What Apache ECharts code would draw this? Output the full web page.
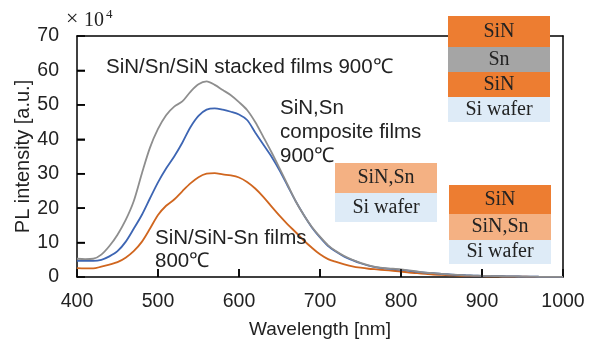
<!DOCTYPE html>
<html><head><meta charset="utf-8">
<script src="https://cdn.jsdelivr.net/npm/echarts@6/dist/echarts.min.js"></script>
<style>html,body{margin:0;padding:0;background:#fff}#c{width:598px;height:340px}</style>
</head><body><div id="c"></div>
<script>
var wavelengths = [];
for (var w = 400; w <= 1000; w += 10) wavelengths.push(w);
var stackedSeries = [5.3,5.2,5.3,6.5,9.0,12.3,16.5,22,30,37.5,43,47,49.5,51,53.8,56,56.8,55.8,54.3,52.8,50.8,48.5,45,40.7,36.3,31.6,26.8,22,18,14.5,11.7,9.2,7.5,6.1,5.0,4.1,3.4,2.9,2.6,2.4,2.2,1.9,1.6,1.3,1.1,0.9,0.75,0.62,0.5,0.42,0.35,0.3,0.25,0.2,0.16,0.12,0.1,0.07,0.05,0.03,0.02];
var compositeSeries = [4.7,4.7,4.7,5.0,6.0,7.5,10.2,14,18,22.8,27.5,31.5,35,39,43.5,46.8,48.6,49,48.6,48,47.2,45.6,42,38.5,35,31,26.5,22,18,14.4,11.5,9.0,7.3,5.9,4.9,4.0,3.3,2.8,2.5,2.3,2.1,1.8,1.5,1.3,1.1,0.9,0.75,0.6,0.5,0.42,0.35,0.3,0.25,0.2,0.16,0.12,0.1,0.07,0.05,0.03,0.02];
var sinSnSeries = [2.6,2.5,2.5,3.0,3.6,4.3,5.6,7.5,10.2,14,18,20.7,22.5,24.9,27.2,29,30,30.2,29.8,29.5,28.9,27.6,25.7,23.3,20.5,17.8,15.3,13,10.6,8.5,6.6,5.2,4.4,3.7,3.1,2.7,2.4,2.2,2.0,1.8,1.6,1.3,1.1,0.9,0.7,0.6,0.5,0.4,0.32,0.28,0.24,0.2,0.16,0.13,0.1,0.08,0.06,0.04,0.03,0.02,0.01];
var xTicks = [400,500,600,700,800,900,1000];
var yTicks = [0,10,20,30,40,50,60,70];

function pairs(vals){ return wavelengths.map(function(w,i){return [w, vals[i]];}); }

var sans = '"Liberation Sans", Arial, sans-serif';
var serif = '"Liberation Serif", "Times New Roman", serif';

function txt(x, y, text, size, family, extra){
  var st = {text:text, fontSize:size, fontFamily:family, fill:'#222'};
  if (extra) for (var k in extra) st[k] = extra[k];
  return {type:'text', x:x, y:y, z:101, style:st};
}
function layerBox(x, y, w, h, fill, label){
  return {type:'group', z:100, children:[
    {type:'rect', shape:{x:x,y:y,width:w,height:h}, style:{fill:fill}, z:100},
    txt(x+w/2, y+h/2, label, 20, serif, {align:'center', verticalAlign:'middle'})
  ]};
}
var DARK='#ED7D31', LIGHT='#F4B183', GRAY='#A5A5A5', BLUE='#DEEBF7';
var axisLineStyle = {show:true,onZero:false,lineStyle:{color:'#000',width:1.5}};
var tickStyle = {show:true,inside:true,length:8,lineStyle:{color:'#000',width:1.5}};

var graphics = [
  txt(66, 8, '×', 22, serif),
  txt(84, 11, '10', 20, serif),
  txt(106, 8, '4', 13, serif),
  txt(106, 57, 'SiN/Sn/SiN stacked films 900℃', 20.5, sans),
  txt(280, 96, 'SiN,Sn\ncomposite films\n900℃', 20.5, sans, {lineHeight:24}),
  txt(155, 227, 'SiN/SiN-Sn films\n800℃', 20.5, sans, {lineHeight:23}),
  layerBox(448,16,102,31,DARK,'SiN'),
  layerBox(448,47,102,25,GRAY,'Sn'),
  layerBox(448,72,102,25,DARK,'SiN'),
  layerBox(448,97,102,25,BLUE,'Si wafer'),
  layerBox(335,163,102,30,LIGHT,'SiN,Sn'),
  layerBox(335,193,102,29,BLUE,'Si wafer'),
  layerBox(449,185,102,29,DARK,'SiN'),
  layerBox(449,214,102,26,LIGHT,'SiN,Sn'),
  layerBox(449,240,102,24,BLUE,'Si wafer')
];

var chart = echarts.init(document.getElementById('c'));
chart.setOption({
  animation:false,
  grid:{left:77,right:35,top:36,bottom:63,show:false,containLabel:false,outerBoundsMode:'none'},
  xAxis:[{type:'value',position:'bottom',min:xTicks[0],max:xTicks[xTicks.length-1],interval:100,
    axisLine:axisLineStyle,
    axisTick:tickStyle,
    axisLabel:{show:true,color:'#222',fontFamily:sans,fontSize:19.5,margin:15,formatter:function(v){return String(v);}},
    splitLine:{show:false},
    name:'Wavelength [nm]',nameLocation:'middle',nameGap:43,nameMoveOverlap:false,
    nameTextStyle:{color:'#222',fontFamily:sans,fontSize:19}},
    {type:'value',position:'top',min:xTicks[0],max:xTicks[xTicks.length-1],interval:100,
    axisLine:axisLineStyle,axisTick:{show:false},axisLabel:{show:false},splitLine:{show:false}}],
  yAxis:[{type:'value',position:'left',min:yTicks[0],max:yTicks[yTicks.length-1],interval:10,
    axisLine:axisLineStyle,
    axisTick:tickStyle,
    axisLabel:{show:true,color:'#222',fontFamily:sans,fontSize:19.5,margin:18},
    splitLine:{show:false},
    name:'PL intensity [a.u.]',nameLocation:'middle',nameGap:44,nameMoveOverlap:false,
    nameTextStyle:{color:'#222',fontFamily:sans,fontSize:20}},
    {type:'value',position:'right',min:yTicks[0],max:yTicks[yTicks.length-1],interval:10,
    axisLine:axisLineStyle,axisTick:{show:false},axisLabel:{show:false},splitLine:{show:false}}],
  series:[
    {type:'line',data:pairs(sinSnSeries),showSymbol:false,smooth:0.3,lineStyle:{color:'#D0661F',width:1.8},z:3},
    {type:'line',data:pairs(compositeSeries),showSymbol:false,smooth:0.3,lineStyle:{color:'#3D65B3',width:1.8},z:4},
    {type:'line',data:pairs(stackedSeries),showSymbol:false,smooth:0.3,lineStyle:{color:'#8E8E8E',width:1.8},z:5}
  ],
  graphic:graphics
});

// inward tick marks, positioned through the chart's own scales
try {
  var tickEls = [];
  xTicks.slice(1, -1).forEach(function(v){
    var p = chart.convertToPixel({xAxisIndex:0, yAxisIndex:0}, [v, yTicks[0]]);
    tickEls.push({type:'line', z:50, shape:{x1:p[0],y1:p[1],x2:p[0],y2:p[1]-8}, style:{stroke:'#000',lineWidth:1.5}});
  });
  yTicks.slice(1, -1).forEach(function(v){
    var p = chart.convertToPixel({xAxisIndex:0, yAxisIndex:0}, [xTicks[0], v]);
    tickEls.push({type:'line', z:50, shape:{x1:p[0],y1:p[1],x2:p[0]+8,y2:p[1]}, style:{stroke:'#000',lineWidth:1.5}});
  });
  chart.setOption({graphic: graphics.concat(tickEls)});
} catch (e) {}
</script></body></html>
